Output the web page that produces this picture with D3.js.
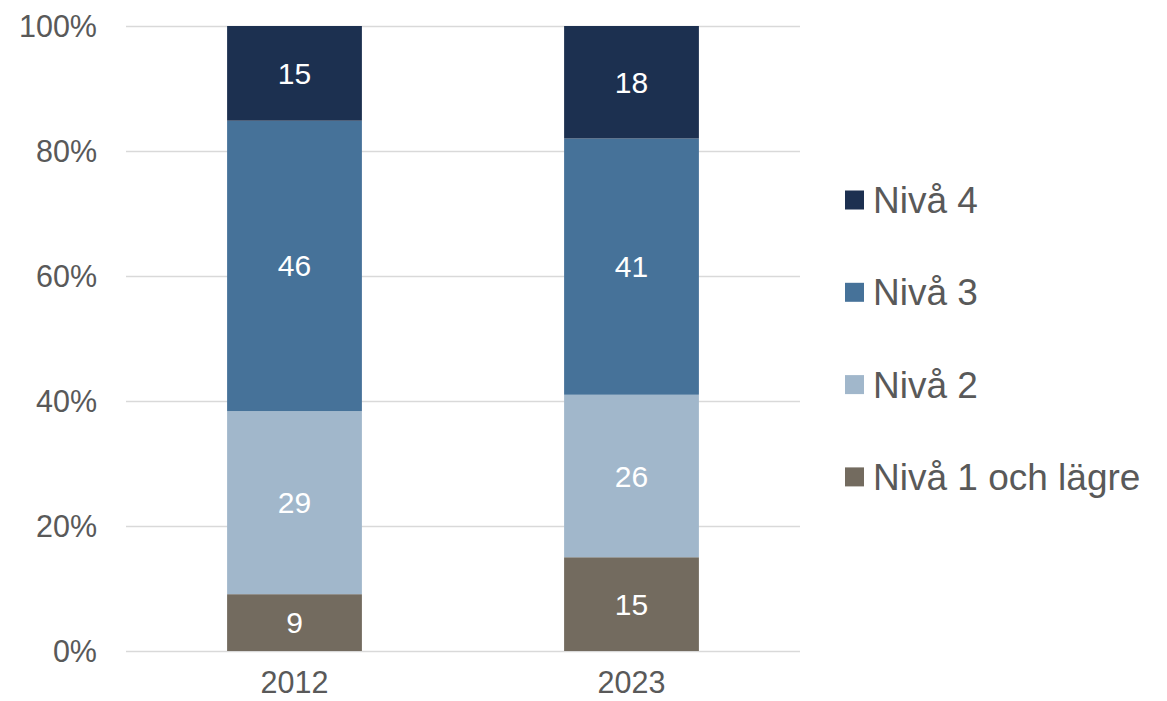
<!DOCTYPE html>
<html>
<head>
<meta charset="utf-8">
<script src="https://cdn.jsdelivr.net/npm/d3@7"></script>
<style>
  body { margin: 0; background: #fff; }
  text { font-family: "Liberation Sans", Arial, sans-serif; }
</style>
</head>
<body>
<div id="chart"></div>
<script>
// data
var years = ["2012", "2023"];
var levels = ["Nivå 1 och lägre", "Nivå 2", "Nivå 3", "Nivå 4"];
var niva1 = [9, 15];
var niva2 = [29, 26];
var niva3 = [46, 41];
var niva4 = [15, 18];
var yTicks = [0, 20, 40, 60, 80, 100];

var colors = ["#736b5f", "#a1b7cb", "#467299", "#1c3050"];

var width = 1167, height = 701;
var margin = {top: 26, bottom: 50, left: 126, right: 367};

var svg = d3.select("#chart").append("svg")
  .attr("width", width)
  .attr("height", height);

var rows = years.map(function(y, i) {
  return {year: y, "Nivå 1 och lägre": niva1[i], "Nivå 2": niva2[i], "Nivå 3": niva3[i], "Nivå 4": niva4[i]};
});

var stack = d3.stack().keys(levels).offset(d3.stackOffsetExpand);
var series = stack(rows);

var x = d3.scaleBand()
  .domain(years)
  .range([margin.left, width - margin.right])
  .paddingInner(0.6)
  .paddingOuter(0.3);

var y = d3.scaleLinear()
  .domain([0, 1])
  .range([height - margin.bottom, margin.top]);

// gridlines
svg.append("g").selectAll("line")
  .data(yTicks)
  .enter().append("line")
  .attr("x1", margin.left)
  .attr("x2", width - margin.right)
  .attr("y1", function(d) { return y(d / 100) + 0.5; })
  .attr("y2", function(d) { return y(d / 100) + 0.5; })
  .attr("stroke", "#d9d9d9")
  .attr("stroke-width", 1.5);

// y tick labels
svg.append("g").selectAll("text")
  .data(yTicks)
  .enter().append("text")
  .attr("x", 97)
  .attr("y", function(d) { return y(d / 100); })
  .attr("dy", "0.35em")
  .attr("text-anchor", "end")
  .attr("fill", "#595959")
  .style("font-size", "30.5px")
  .text(function(d) { return d + "%"; });

// bars
var groups = svg.append("g").selectAll("g")
  .data(series)
  .enter().append("g")
  .attr("fill", function(d, i) { return colors[i]; });

groups.selectAll("rect")
  .data(function(d) { return d; })
  .enter().append("rect")
  .attr("x", function(d) { return x(d.data.year); })
  .attr("y", function(d) { return y(d[1]); })
  .attr("width", x.bandwidth())
  .attr("height", function(d) { return y(d[0]) - y(d[1]); });

// data labels
series.forEach(function(s) {
  svg.append("g").selectAll("text")
    .data(s)
    .enter().append("text")
    .attr("x", function(d) { return x(d.data.year) + x.bandwidth() / 2; })
    .attr("y", function(d) { return (y(d[0]) + y(d[1])) / 2; })
    .attr("dy", "0.35em")
    .attr("text-anchor", "middle")
    .attr("fill", "#fff")
    .style("font-size", "30px")
    .text(function(d) { return d.data[s.key]; });
});

// x labels
svg.append("g").selectAll("text")
  .data(years)
  .enter().append("text")
  .attr("x", function(d) { return x(d) + x.bandwidth() / 2; })
  .attr("y", 693)
  .attr("text-anchor", "middle")
  .attr("fill", "#595959")
  .style("font-size", "30.5px")
  .text(function(d) { return d; });

// legend, top item is Nivå 4
var legendItems = levels.slice().reverse();
var legendColors = colors.slice().reverse();
var legend = svg.append("g").selectAll("g")
  .data(legendItems)
  .enter().append("g")
  .attr("transform", function(d, i) { return "translate(845," + (200 + i * 92.3) + ")"; });

legend.append("rect")
  .attr("x", 0)
  .attr("y", -9.5)
  .attr("width", 19)
  .attr("height", 19)
  .attr("fill", function(d, i) { return legendColors[i]; });

legend.append("text")
  .attr("x", 28)
  .attr("y", 0)
  .attr("dy", "0.35em")
  .attr("fill", "#595959")
  .style("font-size", "37px")
  .text(function(d) { return d; });
</script>
</body>
</html>
